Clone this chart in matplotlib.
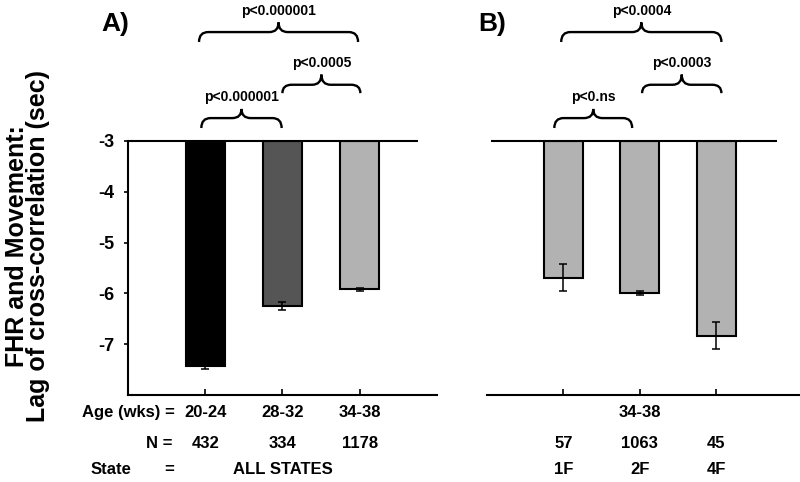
import numpy as np
import matplotlib
matplotlib.use("Agg")
import matplotlib.pyplot as plt
from matplotlib.path import Path
from matplotlib.patches import PathPatch
import matplotlib.transforms as mtransforms

plt.rcParams['font.family'] = ['Liberation Sans', 'DejaVu Sans']
plt.rcParams['font.weight'] = 'bold'

# panel A: all states by gestational age
age_groups = ["20-24", "28-32", "34-38"]
n_a = ["432", "334", "1178"]
lag_a = [-7.42, -6.24, -5.92]
err_a = [0.07, 0.08, 0.03]
colors_a = ["#000000", "#555555", "#b2b2b2"]

# panel B: 34-38 wks by state
states = ["1F", "2F", "4F"]
n_b = ["57", "1063", "45"]
lag_b = [-5.69, -5.99, -6.83]
err_b = [0.26, 0.04, 0.27]
colors_b = ["#b2b2b2", "#b2b2b2", "#b2b2b2"]

# brackets: (x start, x end, label, level)
braces_a = [(0.92, 2.98, "p<0.000001", 2), (2.0, 3.01, "p<0.0005", 1), (0.95, 1.99, "p<0.000001", 0)]
braces_b = [(0.97, 3.07, "p<0.0004", 2), (2.03, 3.07, "p<0.0003", 1), (0.88, 1.9, "p<0.ns", 0)]

# (tip, flat, peak, label) in axes fraction
levels = {0: (1.05, 1.089, 1.125, 1.172), 1: (1.187, 1.22, 1.26, 1.305), 2: (1.388, 1.427, 1.465, 1.51)}


def draw_brace(ax, x0, x1, label, level):
    tip, flat, peak, ty = levels[level]
    r = 0.12
    xm = (x0 + x1) / 2
    verts = [(x0, tip), (x0, flat), (x0 + r, flat),
             (xm - r, flat), (xm, flat), (xm, peak),
             (xm, flat), (xm + r, flat),
             (x1 - r, flat), (x1, flat), (x1, tip)]
    codes = [Path.MOVETO, Path.CURVE3, Path.CURVE3,
             Path.LINETO, Path.CURVE3, Path.CURVE3,
             Path.CURVE3, Path.CURVE3,
             Path.LINETO, Path.CURVE3, Path.CURVE3]
    trans = mtransforms.blended_transform_factory(ax.transData, ax.transAxes)
    patch = PathPatch(Path(verts, codes), facecolor='none', edgecolor='black',
                      lw=1.7, transform=trans, clip_on=False)
    ax.add_patch(patch)
    ax.text(xm, ty, label, transform=trans, ha='center', va='center', fontsize=10, fontweight='bold')


fig = plt.figure(figsize=(8, 4.82), dpi=100)
ax_a = fig.add_axes([0.16, 0.18, 0.386, 0.528])
ax_b = fig.add_axes([0.609, 0.18, 0.391, 0.528])

x = np.arange(1, 4)
for ax, vals, errs, cols in [(ax_a, lag_a, err_a, colors_a), (ax_b, lag_b, err_b, colors_b)]:
    heights = [v + 3 for v in vals]
    ax.bar(x, heights, bottom=-3, width=0.51, color=cols, edgecolor='black', linewidth=1.5, zorder=2)
    ax.errorbar(x, vals, yerr=errs, fmt='none', ecolor='black', elinewidth=1.1, capsize=3, capthick=1.1, zorder=3)
    ax.set_ylim(-8, -3)
    ax.set_xticks(x)
    ax.set_xticklabels([])
    ax.tick_params(axis='x', direction='in', length=4, width=1.2)
    for s in ['top', 'right']:
        ax.spines[s].set_visible(False)
    ax.spines['bottom'].set_linewidth(1.5)

ax_a.set_xlim(0, 4)
ax_b.set_xlim(0, 4.1)
ax_a.hlines(-3, 0, 3.75, color='black', lw=1.5, clip_on=False)
ax_b.hlines(-3, 0.05, 3.8, color='black', lw=1.5, clip_on=False)

ax_a.spines['left'].set_linewidth(1.5)
ax_a.set_yticks([-3, -4, -5, -6, -7])
ax_a.set_yticklabels(["-3", "-4", "-5", "-6", "-7"], fontsize=13, fontweight='bold')
ax_a.tick_params(axis='y', direction='out', length=3, width=1.2, pad=7)

ax_b.spines['left'].set_visible(False)
ax_b.set_yticks([])

for ax, braces in [(ax_a, braces_a), (ax_b, braces_b)]:
    for x0, x1, lab, lev in braces:
        draw_brace(ax, x0, x1, lab, lev)

# category rows under the axes
ta = mtransforms.blended_transform_factory(ax_a.transData, ax_a.transAxes)
tb = mtransforms.blended_transform_factory(ax_b.transData, ax_b.transAxes)
fs = 12
ax_a.text(0.6, -0.068, "Age (wks) =", transform=ta, ha='right', va='center', fontsize=fs)
ax_a.text(0.57, -0.189, "N =", transform=ta, ha='right', va='center', fontsize=fs)
ax_a.text(-0.49, -0.293, "State", transform=ta, ha='left', va='center', fontsize=fs)
ax_a.text(0.53, -0.293, "=", transform=ta, ha='center', va='center', fontsize=fs)
ax_a.text(2, -0.293, "ALL STATES", transform=ta, ha='center', va='center', fontsize=fs)
for i in range(3):
    ax_a.text(x[i], -0.068, age_groups[i], transform=ta, ha='center', va='center', fontsize=fs)
    ax_a.text(x[i], -0.189, n_a[i], transform=ta, ha='center', va='center', fontsize=fs)
    ax_b.text(x[i], -0.189, n_b[i], transform=tb, ha='center', va='center', fontsize=fs)
    ax_b.text(x[i], -0.293, states[i], transform=tb, ha='center', va='center', fontsize=fs)
ax_b.text(2, -0.068, "34-38", transform=tb, ha='center', va='center', fontsize=fs)

fig.text(0.144, 0.95, "A)", ha='center', va='center', fontsize=19, fontweight='bold')
fig.text(0.615, 0.95, "B)", ha='center', va='center', fontsize=19, fontweight='bold')
fig.text(0.034, 0.49, "FHR and Movement:\nLag of cross-correlation (sec)", rotation=90,
         ha='center', va='center', fontsize=18, fontweight='bold', multialignment='center', linespacing=0.85)

fig.savefig("out.png", dpi=100)
